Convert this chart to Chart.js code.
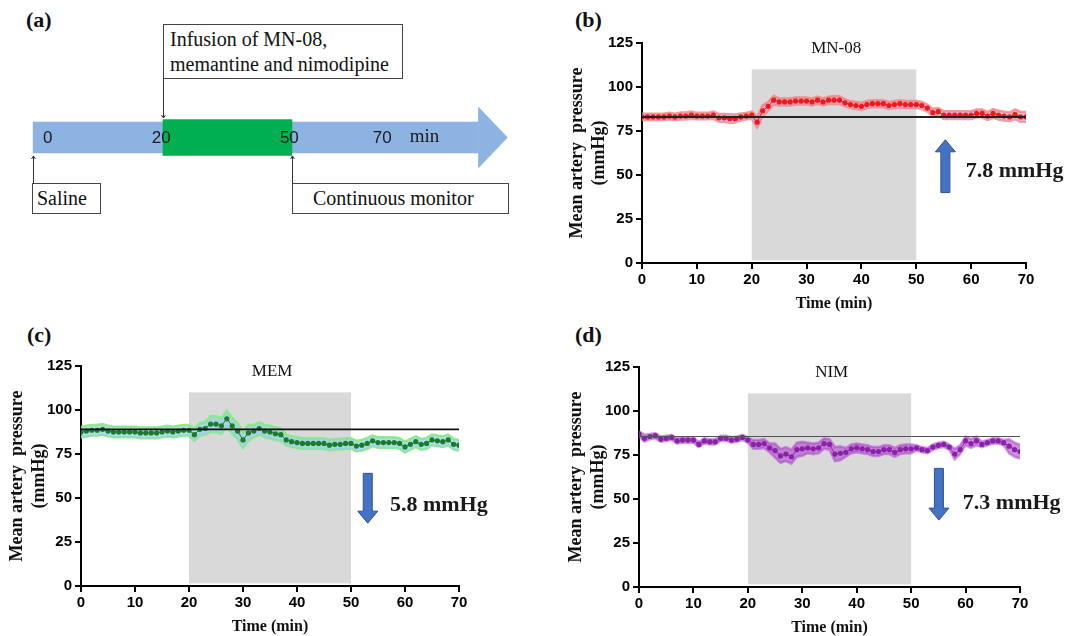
<!DOCTYPE html>
<html>
<head>
<meta charset="utf-8">
<script src="https://cdn.jsdelivr.net/npm/chart.js@4.4.0/dist/chart.umd.min.js"></script>
<style>
body{margin:0;background:#fff;width:1068px;height:636px;position:relative;overflow:hidden}
canvas{position:absolute}
.tag{position:absolute;font:bold 22px "Liberation Serif";line-height:22px;color:#111}
.box{position:absolute;box-sizing:border-box;border:1px solid #444;font:20px "Liberation Serif";color:#111;background:#fff}
</style>
</head>
<body>
<div class="tag" style="left:26px;top:9px">(a)</div>
<div class="tag" style="left:575px;top:9px">(b)</div>
<div class="tag" style="left:27px;top:324px">(c)</div>
<div class="tag" style="left:575px;top:324px">(d)</div>

<canvas id="timeline" width="534" height="230" style="left:0;top:0"></canvas>
<div class="box" style="left:163px;top:24px;width:240px;height:55px;padding:2px 0 0 6px;line-height:25px">Infusion of MN-08,<br>memantine and nimodipine</div>
<div class="box" style="left:32px;top:183px;width:69px;height:31px;padding-left:4px;line-height:29px">Saline</div>
<div class="box" style="left:292px;top:183px;width:217px;height:31px;padding-left:20px;line-height:29px">Continuous monitor</div>

<canvas id="mn08" width="534" height="320" style="left:534px;top:0"></canvas>
<canvas id="mem" width="534" height="316" style="left:0;top:320px"></canvas>
<canvas id="nim" width="534" height="317" style="left:534px;top:320px"></canvas>

<script>
// ---- data ----
const minutes = Array.from({length: 71}, (_, i) => i);
const infusion = [20, 50];          // infusion window (min)
const shadeRange = [1.5, 110];      // grey box height (mmHg)

const mn08Mean = [83,83,83,83,83,83.5,83,83.5,83.5,84,83.5,83.5,83.5,84,82.5,82.5,82,82,83,83.5,84,
  80,86.5,89,92.5,91.5,91.5,91.5,92,92,92,91.5,92.5,91.5,92.5,92.5,92.5,91,90,89.5,89,
  90,90.5,90.5,90.5,89.5,90,90.5,90,90,90,
  89.5,88,85.5,86,84,84,84,84,84,84,85,85,83.5,85,84,83.5,83,84.5,83,83];
const mn08Sem = [1.8,1.8,1.8,1.8,1.8,1.8,1.8,2,2,2,1.8,1.8,1.8,2,2.2,2.2,2.5,2.2,2,1.8,2,
  3,3,2.5,2.5,2,2,2,2,2,2,2,2,2,2,2.2,2.2,2,2,2,2,
  2,2,2,2,2,2,2,2,2,2,
  2,2,2,2,2.2,2.2,2.2,2.2,2.2,2.2,2.2,2.2,2.2,2.5,2.5,2.5,2.5,2.8,2.8,2.8];

const memMean = [87.5,88,88.5,88.5,89,88,87.5,87.5,87.5,87.5,87.5,87,87,87,87,87.5,88,87.5,88,88.5,88.5,
  86,89,89.5,92,92,91,95,91,88,83,87,88,89.5,88,87.5,86.5,86,83,82,81.5,
  81,81,81,81,81,80,80.5,80.5,81,81,
  79.5,80,81,82.5,81.5,81.5,81.5,81.5,81,79,80.5,82,80.5,81,83,82.5,82,83,80.5,80];
const memSem = [3,3,3,3,3,3,3,3,3,3,3,3,3,3,3,3,3,3,3,3,3,
  3.5,3.5,3.5,4.5,4.5,4.5,4.5,4.5,4.5,4.5,4.5,3.5,3.5,3.5,3.5,3.5,3.5,3,3,3,
  3,3,3,3,3,3,3,3,3,3,
  3,3,3,3,3,3,3,3,3,3,3,3,3,3,3,3,3,3,3,3];

const nimMean = [87,84.5,85.5,86,84,84.5,85,83,83.5,83.5,83.5,81,83,82.5,82.5,84.5,84.5,83.5,84,85,83.5,
  81,81,81.5,79,77.5,74.5,75.5,74,78,78.5,79,78.5,79,81.5,81,75.5,76,76.5,78.5,79,
  78.5,78,77,77,78,78,76.5,78,78.5,78.5,
  79,78,77.5,79.5,80.5,81,79.5,75.5,78,83,81.5,83,81,82,83,83,82,80,78,77];
const nimSem = [1.5,2,1.5,1.5,1.5,1.5,1.5,1.5,1.5,1.5,1.5,1.5,1.5,1.5,1.5,1.5,1.5,1.5,1.5,1.5,1.5,
  2.5,2.5,2.5,2.5,4,4,4,4,4,4,3,3,3,3,3,4,4,2.5,2.5,2.5,
  2.5,2.5,2.5,2.5,2.5,2.5,2.5,2.5,2.5,2.5,
  1.5,1.5,1.5,1.5,1.5,1.5,1.5,3,2.5,2.5,2.5,2.5,1.5,1.5,1.5,1.5,1.5,4,4,4];

const baselines = {mn08: 83, mem: 89, nim: 85.5};
const xTicks = [0, 70, 10];
const yTicks = [0, 125, 25];

// schematic timeline (a)
const stageLabels = ['0', '20', '50', '70'];
const stageLabelAt = [-7.9, 17.4, 47.2, 68.8];
const timelineShaft = [-10.2, 93.3];
const timelineTip = 100.2;

// ---- panel (a) ----
const timelineDecor = {
  id: 'timelineDecor',
  afterDatasetsDraw(chart) {
    const {ctx, chartArea} = chart;
    const x = chart.scales.x;
    const cy = (chartArea.top + chartArea.bottom) / 2;
    ctx.save();
    // arrow head
    ctx.fillStyle = '#8db3e2';
    const x0 = x.getPixelForValue(timelineShaft[1]);
    ctx.beginPath();
    ctx.moveTo(x0, cy - 31); ctx.lineTo(x.getPixelForValue(timelineTip), cy); ctx.lineTo(x0, cy + 31);
    ctx.closePath(); ctx.fill();
    // labels
    ctx.fillStyle = '#1a1a1a';
    ctx.textBaseline = 'middle';
    ctx.font = '17px "Liberation Sans"';
    stageLabels.forEach((t, i) => ctx.fillText(t, x.getPixelForValue(stageLabelAt[i]), cy + 1));
    ctx.font = '19px "Liberation Serif"';
    ctx.fillText('min', x.getPixelForValue(77.4), cy);
    // connectors
    ctx.strokeStyle = '#333'; ctx.lineWidth = 1;
    const line = (px, y1, y2) => {
      px = Math.round(px) + 0.5;
      ctx.beginPath(); ctx.moveTo(px, y1); ctx.lineTo(px, y2); ctx.stroke();
      const d = y2 > y1 ? -3 : 3;
      ctx.beginPath(); ctx.moveTo(px - 2, y2 + d); ctx.lineTo(px, y2); ctx.lineTo(px + 2, y2 + d); ctx.stroke();
    };
    line(x.getPixelForValue(infusion[0]), 79, 118);
    line(x.getPixelForValue(timelineShaft[0]), 183, 156);
    line(x.getPixelForValue(infusion[1]), 183, 156);
    ctx.restore();
  }
};

new Chart(document.getElementById('timeline'), {
  type: 'bar',
  data: {
    labels: ['timeline'],
    datasets: [
      {data: [infusion], backgroundColor: '#00b050', barThickness: 36, grouped: false, order: 0},
      {data: [timelineShaft], backgroundColor: '#8db3e2', barThickness: 31, grouped: false, order: 1}
    ]
  },
  options: {
    indexAxis: 'y',
    responsive: false,
    animation: false,
    layout: {padding: {top: 45, bottom: 0, left: 0, right: 0}},
    scales: {
      x: {type: 'linear', display: false, min: -17.9, max: 106.3},
      y: {display: false}
    },
    plugins: {legend: {display: false}, tooltip: {enabled: false}}
  },
  plugins: [timelineDecor]
});

// ---- panels (b)(c)(d) ----
const shadePlugin = {
  id: 'shade',
  beforeDatasetsDraw(chart) {
    const {ctx, scales: {x, y}} = chart;
    const l = x.getPixelForValue(infusion[0]), r = x.getPixelForValue(infusion[1]);
    const t = y.getPixelForValue(shadeRange[1]), b = y.getPixelForValue(shadeRange[0]);
    ctx.save();
    ctx.fillStyle = '#d9d9d9';
    ctx.fillRect(l, t, r - l, b - t);
    ctx.restore();
  }
};

const notePlugin = {
  id: 'note',
  afterDraw(chart, args, o) {
    const {ctx, scales: {x, y}} = chart;
    ctx.save();
    ctx.fillStyle = '#111';
    ctx.textAlign = 'center';
    ctx.textBaseline = 'middle';
    ctx.font = '17px "Liberation Serif"';
    ctx.fillText(o.name, x.getPixelForValue(35.4), y.getPixelForValue(122));
    // block arrow
    const ax = x.getPixelForValue(o.arrowX);
    const yFrom = y.getPixelForValue(o.arrowFrom), yTip = y.getPixelForValue(o.arrowTo);
    const dir = yTip < yFrom ? -1 : 1;
    const headLen = 12, shaft = 4.5, head = 10;
    const yNeck = yTip - dir * headLen;
    ctx.beginPath();
    ctx.moveTo(ax - shaft, yFrom); ctx.lineTo(ax - shaft, yNeck); ctx.lineTo(ax - head, yNeck);
    ctx.lineTo(ax, yTip); ctx.lineTo(ax + head, yNeck); ctx.lineTo(ax + shaft, yNeck);
    ctx.lineTo(ax + shaft, yFrom); ctx.closePath();
    ctx.fillStyle = '#4472c4'; ctx.fill();
    ctx.strokeStyle = '#2f528f'; ctx.lineWidth = 1; ctx.stroke();
    ctx.fillStyle = '#1a1a1a';
    ctx.textAlign = 'left';
    ctx.font = 'bold 22px "Liberation Serif"';
    ctx.fillText(o.text, x.getPixelForValue(o.textX), y.getPixelForValue(o.textY));
    ctx.restore();
  }
};

function pressurePanel(id, mean, sem, base, look, note, lay) {
  const pts = arr => arr.map((v, i) => ({x: minutes[i], y: v}));
  new Chart(document.getElementById(id), {
    type: 'line',
    data: {
      datasets: [
        {data: [{x: 0, y: base}, {x: 70, y: base}], borderColor: look.base, borderWidth: look.baseWidth, pointRadius: 0},
        {data: pts(mean), borderColor: look.point, borderWidth: 1, pointRadius: 2.6, pointBorderWidth: 0,
         pointBackgroundColor: look.point},
        {data: pts(mean.map((v, i) => v + sem[i])), borderColor: look.edge, borderWidth: 2.5, pointRadius: 0,
         fill: '+1', backgroundColor: look.fill},
        {data: pts(mean.map((v, i) => v - sem[i])), borderColor: look.edge, borderWidth: 2.5, pointRadius: 0}
      ]
    },
    options: {
      responsive: false,
      animation: false,
      layout: {padding: lay.padding},
      scales: {
        x: {
          type: 'linear', min: xTicks[0], max: xTicks[1],
          ticks: {stepSize: xTicks[2], color: '#000', padding: 2, font: {family: 'Liberation Sans', size: 15, weight: 'bold'}},
          grid: {drawOnChartArea: false, tickLength: 6, color: '#000', lineWidth: 2},
          border: {color: '#000', width: 2},
          title: {display: true, text: 'Time (min)', color: '#111', padding: {top: 0, bottom: 0},
                  font: {family: 'Liberation Serif', size: 16, weight: 'bold'}},
          afterFit: s => { s.height = 50; }
        },
        y: {
          min: yTicks[0], max: yTicks[1],
          ticks: {stepSize: yTicks[2], color: '#000', padding: 3, font: {family: 'Liberation Sans', size: 15, weight: 'bold'}},
          grid: {drawOnChartArea: false, tickLength: 6, color: '#000', lineWidth: 2},
          border: {color: '#000', width: 2},
          title: {display: true, text: ['Mean artery  pressure', '(mmHg)'], color: '#111',
                  padding: {top: lay.titlePad, bottom: 0},
                  font: {family: 'Liberation Serif', size: 18, weight: 'bold', lineHeight: 1.2}},
          afterFit: s => { s.width = lay.yWidth; }
        }
      },
      plugins: {legend: {display: false}, tooltip: {enabled: false}, note: note}
    },
    plugins: [shadePlugin, notePlugin]
  });
}

pressurePanel('mn08', mn08Mean, mn08Sem, baselines.mn08,
  {point: '#f01818', edge: 'rgba(250,120,120,0.75)', fill: 'rgba(200,160,215,0.6)', base: '#222', baseWidth: 2},
  {name: 'MN-08', arrowX: 55.3, arrowFrom: 40, arrowTo: 70, text: '7.8 mmHg', textX: 59, textY: 52},
  {padding: {left: 0, right: 42, top: 43, bottom: 7}, yWidth: 108, titlePad: 33});

pressurePanel('mem', memMean, memSem, baselines.mem,
  {point: '#1b7a2c', edge: 'rgba(130,235,130,0.9)', fill: 'rgba(150,210,225,0.75)', base: '#111', baseWidth: 1.8},
  {name: 'MEM', arrowX: 53.1, arrowFrom: 64, arrowTo: 35.7, text: '5.8 mmHg', textX: 57.2, textY: 46},
  {padding: {left: 0, right: 75, top: 46, bottom: 0}, yWidth: 81, titlePad: 7});

pressurePanel('nim', nimMean, nimSem, baselines.nim,
  {point: '#8a22a8', edge: 'rgba(175,70,205,0.55)', fill: 'rgba(175,70,205,0.6)', base: '#555', baseWidth: 1.2},
  {name: 'NIM', arrowX: 55.1, arrowFrom: 67.4, arrowTo: 38, text: '7.3 mmHg', textX: 59.5, textY: 47.5},
  {padding: {left: 0, right: 48, top: 47, bottom: 0}, yWidth: 105, titlePad: 32});
</script>
</body>
</html>
